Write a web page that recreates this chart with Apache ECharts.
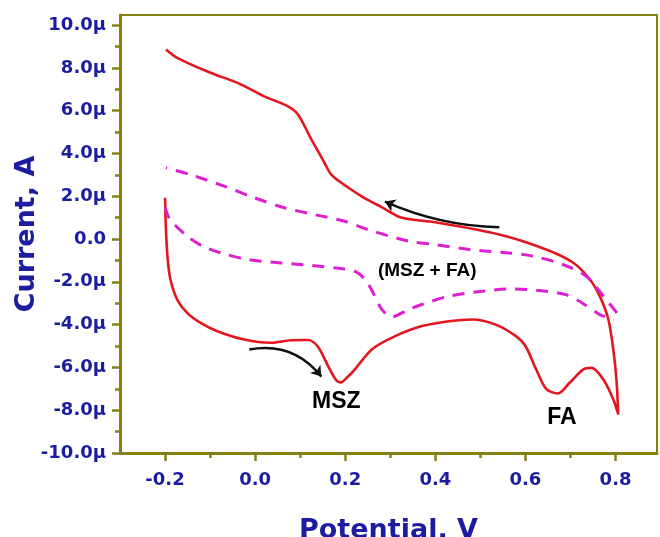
<!DOCTYPE html>
<html>
<head>
<meta charset="utf-8">
<script src="https://cdn.jsdelivr.net/npm/echarts@6/dist/echarts.min.js"></script>
<style>
html,body{margin:0;padding:0;background:#fff;}
#chart{width:660px;height:537px;}
</style>
</head>
<body>
<div id="chart"></div>
<script>
// ---- data (Potential in V, Current in µA) ----
const xTickValues = [-0.2, 0.0, 0.2, 0.4, 0.6, 0.8];
const xTickLabels = ['-0.2', '0.0', '0.2', '0.4', '0.6', '0.8'];
const xMinorTicks = [-0.1, 0.1, 0.3, 0.5, 0.7];
const yTickValues = [-10, -8, -6, -4, -2, 0, 2, 4, 6, 8, 10];
const yTickLabels = ['-10.0µ', '-8.0µ', '-6.0µ', '-4.0µ', '-2.0µ', '0.0', '2.0µ', '4.0µ', '6.0µ', '8.0µ', '10.0µ'];
const yMinorTicks = [-9, -7, -5, -3, -1, 1, 3, 5, 7, 9];

// MSZ (solid red) – forward scan then reverse scan
const mszForward = [
  [-0.200, 1.93], [-0.198, 0.44], [-0.194, -0.96], [-0.188, -1.89], [-0.173, -2.83],
  [-0.151, -3.45], [-0.121, -3.92], [-0.084, -4.31], [-0.024, -4.70], [0.035, -4.85],
  [0.080, -4.73], [0.117, -4.72], [0.139, -5.02], [0.162, -5.94], [0.180, -6.60],
  [0.190, -6.70], [0.205, -6.45], [0.221, -6.10], [0.259, -5.16], [0.311, -4.54],
  [0.370, -4.07], [0.430, -3.84], [0.482, -3.76], [0.534, -4.00], [0.579, -4.54],
  [0.600, -5.00], [0.624, -6.10], [0.646, -7.00], [0.672, -7.22], [0.698, -6.72],
  [0.728, -6.10], [0.747, -6.02], [0.773, -6.57], [0.795, -7.50], [0.806, -8.20]
];
const mszReverse = [
  [0.806, -8.20], [0.802, -6.57], [0.795, -5.16], [0.784, -3.76], [0.765, -2.67],
  [0.743, -1.89], [0.706, -1.11], [0.646, -0.49], [0.542, 0.21], [0.400, 0.78],
  [0.326, 0.99], [0.280, 1.50], [0.240, 1.95], [0.200, 2.50], [0.169, 3.01],
  [0.154, 3.56], [0.125, 4.65], [0.095, 5.82], [0.072, 6.21], [0.020, 6.67],
  [-0.039, 7.30], [-0.099, 7.77], [-0.173, 8.47], [-0.198, 8.86]
];
// MSZ + FA (dashed magenta)
const mixForward = [
  [-0.200, 1.50], [-0.190, 0.95], [-0.151, 0.13], [-0.115, -0.35], [-0.077, -0.64],
  [-0.015, -0.96], [0.058, -1.12], [0.125, -1.23], [0.185, -1.37], [0.221, -1.50],
  [0.244, -1.89], [0.266, -2.67], [0.281, -3.29], [0.303, -3.64], [0.341, -3.29],
  [0.370, -3.06], [0.430, -2.67], [0.504, -2.44], [0.572, -2.33], [0.646, -2.44],
  [0.690, -2.60], [0.720, -2.91], [0.765, -3.53], [0.796, -3.76]
];
const mixReverse = [
  [0.803, -3.45], [0.773, -2.67], [0.735, -1.74], [0.683, -1.19], [0.616, -0.80],
  [0.557, -0.64], [0.475, -0.49], [0.400, -0.26], [0.341, -0.10], [0.251, 0.44],
  [0.199, 0.83], [0.132, 1.14], [0.065, 1.46], [-0.002, 1.93], [-0.069, 2.47],
  [-0.144, 3.01], [-0.198, 3.33]
];
// scan-direction arrows [start, end]
const arrowReverse = [[0.542, 0.55], [0.288, 1.75]];
const arrowForward = [[-0.013, -5.16], [0.147, -6.43]];
// annotations
const annotationNames = ['MSZ', 'FA', '(MSZ + FA)'];
const annotationPoints = [[0.180, -7.59], [0.681, -8.34], [0.382, -1.50]];
const annotationSizes = [23, 23, 19];

// ---- styles ----
const axisColor = '#848014';
const labelColor = '#1c1ca0';
const tickFont = { fontFamily: 'DejaVu Sans', fontWeight: 'bold', fontSize: 18, color: labelColor };

function lookup(values, labels, v) {
  for (let i = 0; i < values.length; i++) if (Math.abs(values[i] - v) < 1e-6) return labels[i];
  return '';
}

const X_MIN = -0.3, X_MAX = 0.892, Y_MIN = -10, Y_MAX = 10.47;

const chart = echarts.init(document.getElementById('chart'), null, { renderer: 'canvas' });
chart.setOption({
  animation: false,
  backgroundColor: '#ffffff',
  grid: {
    left: 120, right: 3, top: 15, bottom: 84, containLabel: false, outerBoundsMode: 'none',
    show: true, borderColor: axisColor, borderWidth: 2, backgroundColor: 'transparent'
  },
  xAxis: [
    {
      type: 'value', min: X_MIN, max: X_MAX, position: 'bottom',
      name: 'Potential, V', nameLocation: 'middle', nameGap: 64, nameMoveOverlap: false,
      nameTextStyle: { fontFamily: 'DejaVu Sans', fontWeight: 'bold', fontSize: 27, color: labelColor },
      axisLine: { show: true, onZero: false, lineStyle: { color: axisColor, width: 3 } },
      axisTick: { show: true, inside: false, length: 8, customValues: xTickValues, lineStyle: { color: axisColor, width: 2.5 } },
      axisLabel: Object.assign({ margin: 18, customValues: xTickValues, formatter: v => lookup(xTickValues, xTickLabels, v) }, tickFont),
      splitLine: { show: false }
    },
    {
      type: 'value', min: X_MIN, max: X_MAX, position: 'bottom',
      axisLine: { show: false, onZero: false },
      axisTick: { show: true, inside: false, length: 5, customValues: xMinorTicks, lineStyle: { color: axisColor, width: 2.5 } },
      axisLabel: { show: false },
      splitLine: { show: false }
    }
  ],
  yAxis: [
    {
      type: 'value', min: Y_MIN, max: Y_MAX, position: 'left',
      name: 'Current, A', nameLocation: 'middle', nameGap: 80, nameMoveOverlap: false,
      nameTextStyle: { fontFamily: 'DejaVu Sans', fontWeight: 'bold', fontSize: 27, color: labelColor },
      axisLine: { show: true, onZero: false, lineStyle: { color: axisColor, width: 3 } },
      axisTick: { show: true, inside: false, length: 8, customValues: yTickValues, lineStyle: { color: axisColor, width: 2.5 } },
      axisLabel: Object.assign({ margin: 14, customValues: yTickValues, formatter: v => lookup(yTickValues, yTickLabels, v) }, tickFont),
      splitLine: { show: false }
    },
    {
      type: 'value', min: Y_MIN, max: Y_MAX, position: 'left',
      axisLine: { show: false, onZero: false },
      axisTick: { show: true, inside: false, length: 5, customValues: yMinorTicks, lineStyle: { color: axisColor, width: 2.5 } },
      axisLabel: { show: false },
      splitLine: { show: false }
    }
  ],
  series: [
    {
      type: 'line', name: 'MSZ', data: mszForward.concat(mszReverse.slice(1)),
      symbol: 'none', smooth: 0.3, silent: true,
      lineStyle: { color: '#e3161e', width: 2.6 }
    },
    {
      type: 'line', name: 'MSZ + FA fwd', data: mixForward,
      symbol: 'none', smooth: 0.3, silent: true,
      lineStyle: { color: '#dd1fcf', width: 3, type: [12, 9] }
    },
    {
      type: 'line', name: 'MSZ + FA rev', data: mixReverse,
      symbol: 'none', smooth: 0.3, silent: true,
      lineStyle: { color: '#dd1fcf', width: 3, type: [12, 9] }
    },
    {
      type: 'lines', coordinateSystem: 'cartesian2d', silent: true,
      symbol: ['none', 'arrow'], symbolSize: 10,
      lineStyle: { color: '#111111', width: 2.5, opacity: 1 },
      data: [
        { coords: arrowReverse, lineStyle: { curveness: 0.1 } },
        { coords: arrowForward, lineStyle: { curveness: 0.3 } }
      ]
    },
    {
      type: 'scatter', silent: true, symbol: 'circle', symbolSize: 0,
      itemStyle: { color: '#000000', opacity: 1 },
      label: {
        show: true, position: [0, 0], align: 'center', verticalAlign: 'middle',
        formatter: p => p.name,
        fontFamily: 'Liberation Sans', fontWeight: 'bold', color: '#000000',
        opacity: 1, textBorderWidth: 0
      },
      data: annotationNames.map((n, i) => ({
        name: n, value: annotationPoints[i],
        label: { fontSize: annotationSizes[i] }
      }))
    }
  ]
});
</script>
</body>
</html>
